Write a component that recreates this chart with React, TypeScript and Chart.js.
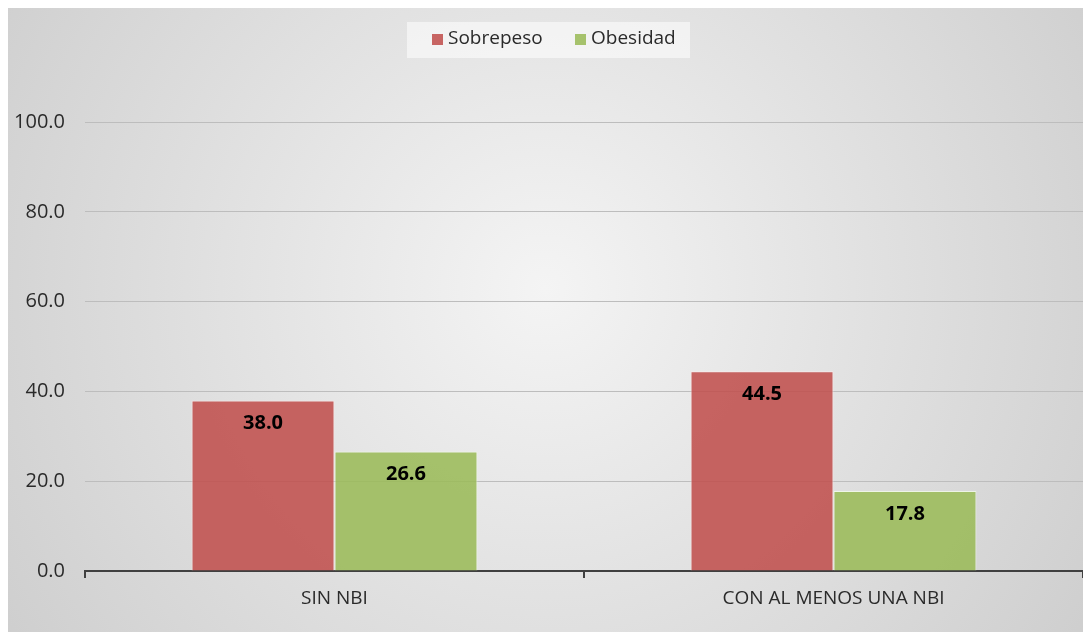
import React, { useEffect, useRef } from "react";
import { Chart, registerables } from "chart.js";

Chart.register(...registerables);

const categories = ["SIN NBI", "CON AL MENOS UNA NBI"];
const seriesNames = ["Sobrepeso", "Obesidad"];
const sobrepeso = [38.0, 44.5];
const obesidad = [26.6, 17.8];
const yTicks = [0, 20, 40, 60, 80, 100];

const RED = "rgba(192,80,77,0.88)";
const GREEN = "rgba(155,187,89,0.88)";
const FONT = "'Open Sans', sans-serif";
const TEXT = "#2a2a2a";

const bgPlugin = {
  id: "bg",
  beforeDraw(chart: any) {
    const { ctx, width, height } = chart;
    ctx.save();
    const g = ctx.createRadialGradient(width / 2, height * 0.45, 0, width / 2, height * 0.45, width * 0.62);
    g.addColorStop(0, "#f4f4f4");
    g.addColorStop(1, "#cdcdcd");
    ctx.fillStyle = g;
    ctx.fillRect(0, 0, width, height);
    ctx.restore();
  },
};

const legendPlugin = {
  id: "customLegend",
  afterDraw(chart: any) {
    const { ctx } = chart;
    ctx.save();
    ctx.fillStyle = "rgba(255,255,255,0.55)";
    ctx.fillRect(399, 14, 283, 36);
    ctx.font = `19px ${FONT}`;
    ctx.textBaseline = "middle";
    const items = [
      { label: seriesNames[0], color: RED, x: 424 },
      { label: seriesNames[1], color: GREEN, x: 567 },
    ];
    items.forEach((it) => {
      ctx.fillStyle = it.color;
      ctx.fillRect(it.x, 26, 11, 11);
      ctx.fillStyle = TEXT;
      ctx.fillText(it.label, it.x + 16, 31);
    });
    ctx.restore();
  },
};

const labelPlugin = {
  id: "barLabels",
  afterDatasetsDraw(chart: any) {
    const { ctx } = chart;
    ctx.save();
    ctx.font = `bold 20px ${FONT}`;
    ctx.fillStyle = "#000";
    ctx.textAlign = "center";
    ctx.textBaseline = "middle";
    chart.data.datasets.forEach((ds: any, i: number) => {
      const meta = chart.getDatasetMeta(i);
      meta.data.forEach((bar: any, j: number) => {
        ctx.fillText(Number(ds.data[j]).toFixed(1), bar.x, bar.y + 23);
      });
    });
    ctx.restore();
  },
};

export default function App() {
  const ref = useRef<HTMLCanvasElement>(null);
  useEffect(() => {
    if (!ref.current) return;
    const chart = new Chart(ref.current, {
      type: "bar",
      data: {
        labels: categories,
        datasets: [
          { label: seriesNames[0], data: sobrepeso, backgroundColor: RED, borderColor: "rgba(255,235,235,0.7)", borderWidth: 1, categoryPercentage: 0.573, barPercentage: 1 },
          { label: seriesNames[1], data: obesidad, backgroundColor: GREEN, borderColor: "rgba(245,255,235,0.7)", borderWidth: 1, categoryPercentage: 0.573, barPercentage: 1 },
        ],
      },
      options: {
        responsive: false,
        animation: false,
        layout: { padding: { top: 114, right: 0, left: 0, bottom: 0 } },
        plugins: { legend: { display: false }, tooltip: { enabled: false } },
        scales: {
          x: {
            offset: true,
            grid: { display: true, drawOnChartArea: false, drawTicks: true, tickLength: 7, color: "#404040", lineWidth: 2, offset: true },
            border: { display: true, color: "#404040", width: 2 },
            ticks: { color: TEXT, font: { family: FONT, size: 19 }, padding: 9 },
            afterFit(scale: any) { scale.height = 61; },
          },
          y: {
            min: 0,
            max: 100,
            afterBuildTicks(scale: any) { scale.ticks = yTicks.map((v) => ({ value: v })); },
            grid: { color: "#bdbdbd", lineWidth: 1, drawTicks: false },
            border: { display: false },
            ticks: { color: TEXT, font: { family: FONT, size: 20 }, padding: 20, callback: (v: any) => Number(v).toFixed(1) },
            afterFit(scale: any) { scale.width = 77; },
          },
        },
      },
      plugins: [bgPlugin, legendPlugin, labelPlugin],
    });
    return () => chart.destroy();
  }, []);
  return (
    <div style={{ position: "fixed", left: 8, top: 8, width: 1075, height: 624 }}>
      <canvas ref={ref} width={1075} height={624} />
    </div>
  );
}
